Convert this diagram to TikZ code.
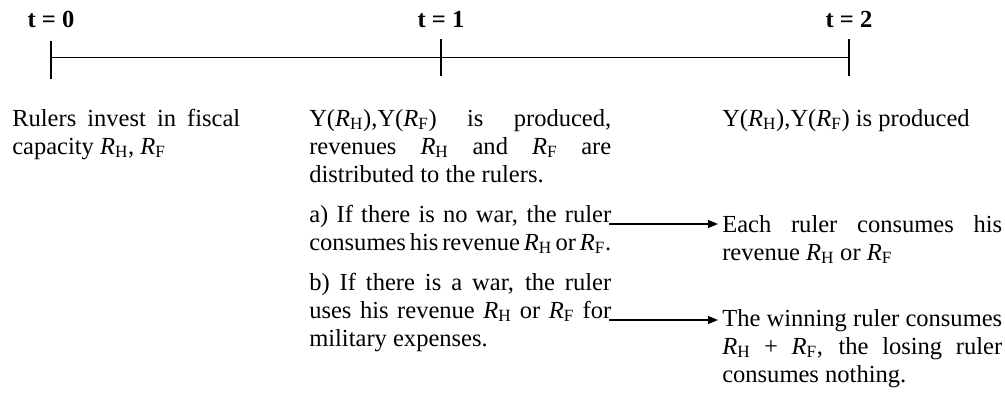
\documentclass[tikz,border=0pt]{standalone}
\usepackage{fontspec}
\setmainfont{Liberation Serif}
\usetikzlibrary{arrows.meta}

\newcommand{\RH}{\textit{R}\textsubscript{H}}
\newcommand{\RF}{\textit{R}\textsubscript{F}}

\begin{document}
\begin{tikzpicture}[x=0.75pt, y=-0.75pt,
  every node/.style={inner sep=0pt, font=\fontsize{18.4}{21}\selectfont},
  txt/.style={anchor=base west, align=justify},
  lbl/.style={anchor=base, font=\fontsize{18.4}{21}\selectfont\bfseries},
  arr/.style={-{Triangle[length=7.5pt,width=6pt]}, line width=0.8pt, shorten >=3pt}]
\useasboundingbox (0,0) rectangle (1005,393);

% time line
\coordinate (p0) at (51,57.5);
\coordinate (p1) at (441,57.5);
\coordinate (p2) at (849,57.5);
\draw[line width=1pt] (p0) -- (p2);
\draw[line width=1pt] ([yshift=12.5pt]p0) -- ([yshift=-16.3pt]p0);
\draw[line width=1pt] ([yshift=14.1pt]p1) -- ([yshift=-14.1pt]p1);
\draw[line width=1pt] ([yshift=14.1pt]p2) -- ([yshift=-14.1pt]p2);

\node[lbl] (t0) at (51,27) {t = 0};
\node[lbl] (t1) at (441,27) {t = 1};
\node[lbl] (t2) at (849,27) {t = 2};

% t = 0
\node[txt, text width=171pt] (invest) at (12,126)
  {Rulers invest in fiscal\linebreak capacity \RH, \RF};

% t = 1
\node[txt, text width=226.5pt] (prod1) at (309,126)
  {Y(\RH),Y(\RF) is produced,\linebreak revenues \RH{} and \RF{} are\linebreak distributed to the rulers.};
\node[txt, text width=226.5pt] (nowar) at (309,222)
  {a) If there is no war, the ruler\linebreak
   {\spaceskip=.25em plus .1em minus .2em\makebox[\linewidth][s]{consumes his revenue \RH{} or \RF.}}};
\node[txt, text width=226.5pt] (war) at (309,290)
  {b) If there is a war, the ruler\linebreak uses his revenue \RH{} or \RF{} for\linebreak military expenses.};

% t = 2
\node[txt] (prod2) at (722,126) {Y(\RH),Y(\RF) is produced};
\node[txt, text width=210pt] (each) at (722,232)
  {Each ruler consumes his\linebreak revenue \RH{} or \RF};
\node[txt, text width=210pt] (win) at (722,326)
  {The winning ruler consumes\linebreak \RH{} + \RF, the losing ruler\linebreak consumes nothing.};

% arrows
\coordinate (aEnd) at (609,224);
\coordinate (bEnd) at (609,320);
\draw[arr] (aEnd) -- (aEnd -| each.west);
\draw[arr] (bEnd) -- (bEnd -| win.west);
\end{tikzpicture}
\end{document}
